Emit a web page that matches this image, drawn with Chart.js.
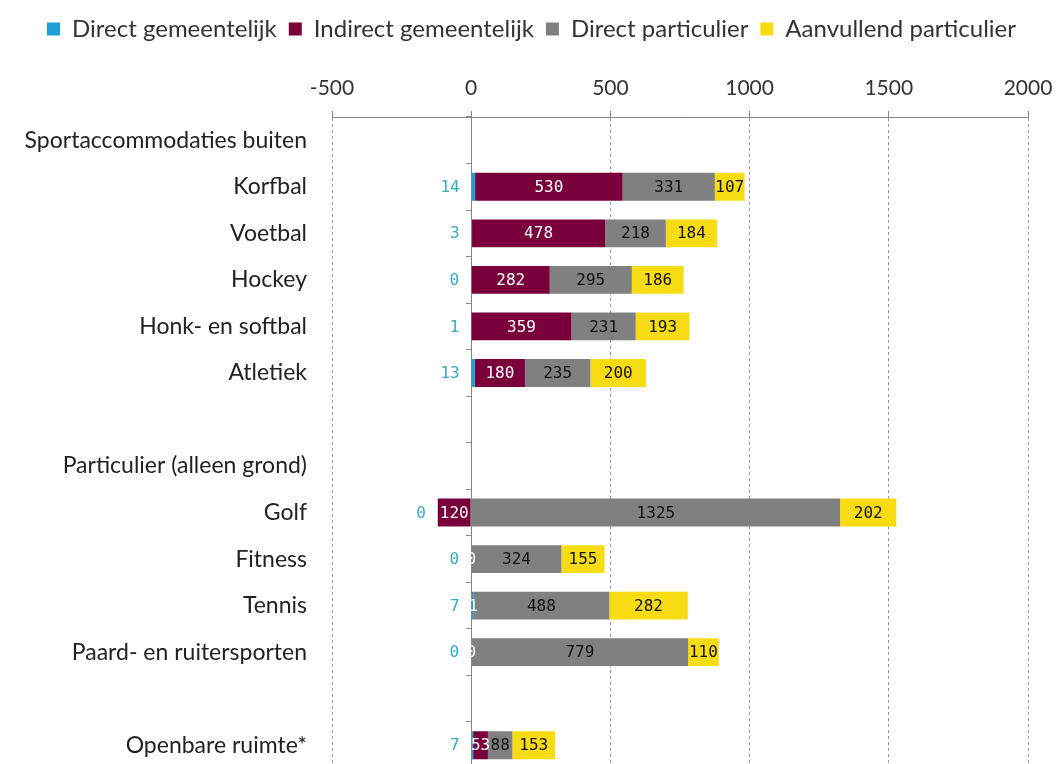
<!DOCTYPE html>
<html>
<head>
<meta charset="utf-8">
<script src="https://cdn.jsdelivr.net/npm/chart.js@4.4.1/dist/chart.umd.min.js"></script>
<style>
  html, body { margin: 0; padding: 0; background: #fff; overflow: hidden; }
  #wrap { width: 1058px; height: 780px; }
</style>
</head>
<body>
<div id="wrap"><canvas id="chart" width="1058" height="780"></canvas></div>
<script>
// categorieen (lege regels zijn scheidingen)
var categories = ['Sportaccommodaties buiten', 'Korfbal', 'Voetbal', 'Hockey', 'Honk- en softbal', 'Atletiek', '',
  'Particulier (alleen grond)', 'Golf', 'Fitness', 'Tennis', 'Paard- en ruitersporten', '', 'Openbare ruimte*'];

var directGemeentelijk   = [null, 14, 3, 0, 1, 13, null, null, 0, 0, 7, 0, null, 7];
var indirectGemeentelijk = [null, 530, 478, 282, 359, 180, null, null, -120, 0, 1, 0, null, 53];
var directParticulier    = [null, 331, 218, 295, 231, 235, null, null, 1325, 324, 488, 779, null, 88];
var aanvullend           = [null, 107, 184, 186, 193, 200, null, null, 202, 155, 282, 110, null, 153];

var xTicks = [-500, 0, 500, 1000, 1500, 2000];

var FONT = 'Lato, "Open Sans", sans-serif';
var LABEL_FONT = '16px "DejaVu Sans Mono", monospace';

// waarden in de balken tekenen
var valueLabels = {
  id: 'valueLabels',
  afterDatasetsDraw: function(chart){
    var ctx = chart.ctx;
    var metas = chart.data.datasets.map(function(d, i){ return chart.getDatasetMeta(i); });
    ctx.save();
    ctx.font = LABEL_FONT;
    ctx.textBaseline = 'middle';
    chart.data.labels.forEach(function(lbl, idx){
      var left = Infinity;
      metas.forEach(function(m){
        var el = m.data[idx];
        if (el && chart.data.datasets[m.index].data[idx] !== null) {
          left = Math.min(left, el.x, el.base);
        }
      });
      metas.forEach(function(m, di){
        var v = chart.data.datasets[di].data[idx];
        if (v === null || v === undefined) return;
        var el = m.data[idx];
        var txt = String(Math.abs(v));
        if (di === 0) {
          ctx.fillStyle = '#35a9c9';
          ctx.textAlign = 'right';
          ctx.fillText(txt, left - 12, el.y + 1);
        } else {
          ctx.fillStyle = di === 1 ? '#ffffff' : '#111111';
          ctx.textAlign = 'center';
          ctx.fillText(txt, (el.x + el.base) / 2, el.y + 1);
        }
      });
    });
    ctx.restore();
  }
};

function noPad(scale){
  scale.paddingTop = 0;
  scale.paddingBottom = 0;
}

new Chart(document.getElementById('chart'), {
  type: 'bar',
  data: {
    labels: categories,
    datasets: [
      { label: 'Direct gemeentelijk', data: directGemeentelijk, backgroundColor: '#1e9fd8' },
      { label: 'Indirect gemeentelijk', data: indirectGemeentelijk, backgroundColor: '#7a003c' },
      { label: 'Direct particulier', data: directParticulier, backgroundColor: '#808080' },
      { label: 'Aanvullend particulier', data: aanvullend, backgroundColor: '#f7dc14' }
    ]
  },
  options: {
    indexAxis: 'y',
    responsive: false,
    animation: false,
    barPercentage: 0.6,
    categoryPercentage: 1,
    layout: { padding: { top: 5, right: 30, bottom: 11.5, left: 0 } },
    plugins: {
      legend: {
        position: 'top',
        align: 'end',
        labels: {
          boxWidth: 13, boxHeight: 13, padding: 12,
          color: '#333', font: { family: FONT, size: 24 }
        }
      },
      tooltip: { enabled: false }
    },
    scales: {
      x: {
        position: 'top',
        stacked: true,
        min: -500, max: 2000,
        afterBuildTicks: function(scale){ scale.ticks = xTicks.map(function(v){ return { value: v }; }); },
        afterFit: function(scale){
          scale.height = 66;
          scale.paddingLeft = 0;
          scale.paddingRight = 0;
        },
        ticks: {
          color: '#333', padding: 10, font: { family: FONT, size: 21 },
          callback: function(v){ return String(v); }
        },
        grid: { color: '#9a9a9a', tickColor: '#888', tickLength: 6 },
        border: { color: '#888', dash: [3, 3] }
      },
      y: {
        stacked: true,
        afterFit: function(scale){ scale.width = 332; noPad(scale); },
        ticks: { color: '#222', padding: 17, font: { family: FONT, size: 23 } },
        grid: { display: false },
        border: { display: false }
      },
      y2: {
        type: 'category',
        position: { x: 0 },
        offset: true,
        afterFit: noPad,
        ticks: { display: false },
        grid: { offset: true, drawOnChartArea: false, tickLength: 5, tickColor: '#888' },
        border: { color: '#888' }
      }
    }
  },
  plugins: [valueLabels]
});
</script>
</body>
</html>
